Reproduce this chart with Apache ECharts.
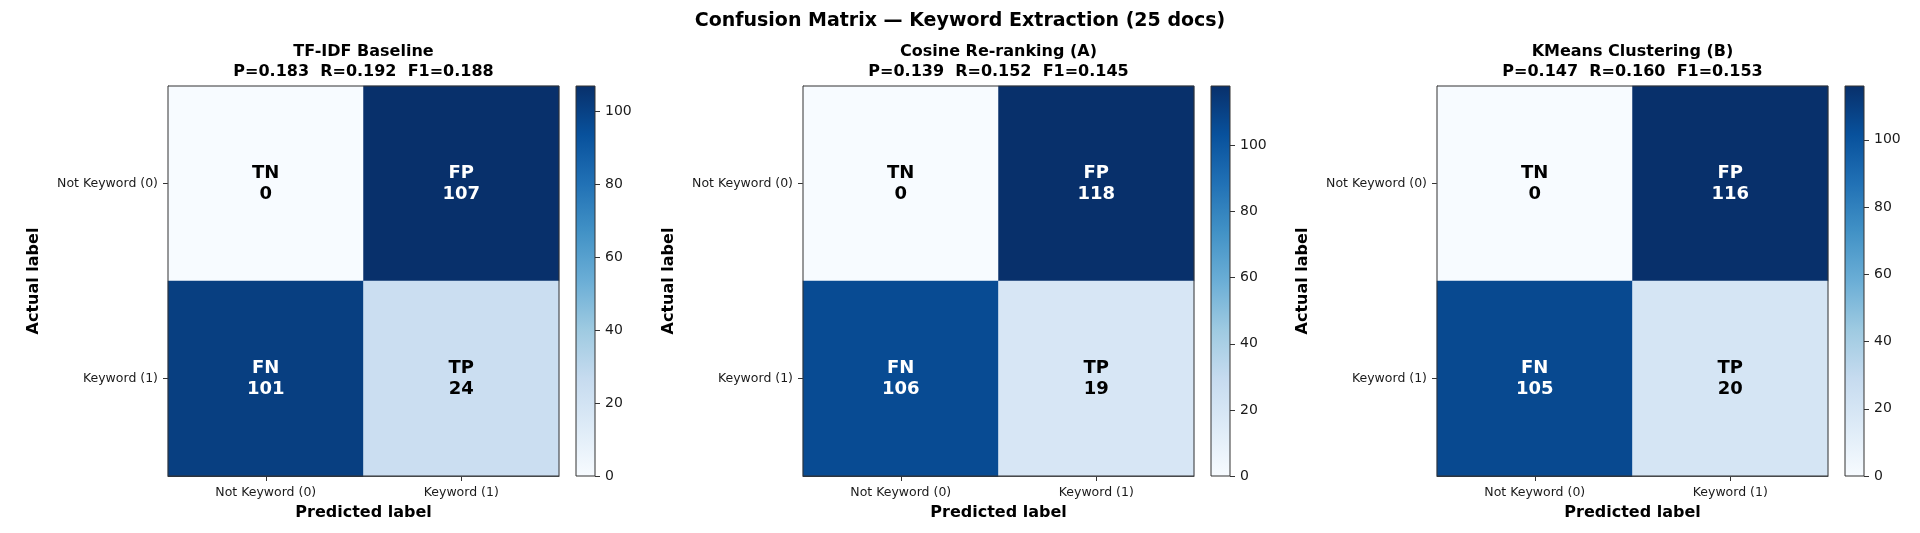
<!DOCTYPE html>
<html>
<head>
<meta charset="utf-8">
<script src="https://cdn.jsdelivr.net/npm/echarts@6/dist/echarts.min.js"></script>
<style>html,body{margin:0;padding:0;background:#fff}#main{width:1920px;height:533px}</style>
</head>
<body>
<div id="main"></div>
<script>
/*数据*/
var mainTitle='Confusion Matrix — Keyword Extraction (25 docs)';
var methods=['TF-IDF Baseline','Cosine Re-ranking (A)','KMeans Clustering (B)'];
var precision=[0.183,0.139,0.147];
var recall=[0.192,0.152,0.160];
var f1=[0.188,0.145,0.153];
var predLabels=['Not Keyword (0)','Keyword (1)'];
var actualLabels=['Not Keyword (0)','Keyword (1)'];
var cellNames=['TN','FP','FN','TP'];
var tn=[0,0,0];
var fp=[107,118,116];
var fn=[101,106,105];
var tp=[24,19,20];
var cbTicks=[0,20,40,60,80,100];
var blues=['#f7fbff','#deebf7','#c6dbef','#9ecae1','#6baed6','#4292c6','#2171b5','#08519c','#08306b'];

/*布局*/
var font='DejaVu Sans';
var lefts=[168,803,1437],topY=86,size=391,cbGap=408,cbW=19;

var myChart=echarts.init(document.getElementById('main'),null,{renderer:'canvas'});
var option={
	backgroundColor:'#fff',
	animation:false,
	textStyle:{fontFamily:font},
	title:[{
		text:mainTitle,left:960,top:10,textAlign:'center',padding:0,
		textStyle:{fontFamily:font,fontSize:19,fontWeight:'bold',color:'#000',lineHeight:22}
	}],
	grid:[],xAxis:[],yAxis:[],visualMap:[],series:[]
};

var stops=[];
for(var s=0;s<blues.length;s++){
	stops.push({offset:s/(blues.length-1),color:blues[s]});
}

for(var i=0;i<methods.length;i++){
	var L=lefts[i];
	var mat=[[tn[i],fp[i]],[fn[i],tp[i]]];
	var vmax=Math.max(tn[i],fp[i],fn[i],tp[i]);
	var data=[];
	for(var r=0;r<2;r++){
		for(var c=0;c<2;c++){
			var v=mat[r][c];
			data.push({name:cellNames[r*2+c],value:[c,r,v],label:{color:v>vmax/2?'#fff':'#000'}});
		}
	}
	// 子图标题
	option.title.push({
		text:methods[i]+'\nP='+precision[i].toFixed(3)+'  R='+recall[i].toFixed(3)+'  F1='+f1[i].toFixed(3),
		left:L+size/2,top:42,textAlign:'center',padding:0,
		textStyle:{fontFamily:font,fontSize:16,fontWeight:'bold',color:'#000',lineHeight:20}
	});
	// 热力图
	option.grid.push({left:L,top:topY,width:size,height:size-1,show:true,z:10,backgroundColor:'transparent',borderColor:'#333',borderWidth:1});
	option.xAxis.push({
		type:'category',gridIndex:2*i,data:predLabels,position:'bottom',
		axisLine:{show:true,lineStyle:{color:'#333'}},
		axisTick:{show:true,alignWithLabel:true,length:5,lineStyle:{color:'#333'}},
		axisLabel:{fontFamily:font,fontSize:12.5,color:'#1a1a1a',margin:10},
		splitLine:{show:false},splitArea:{show:false},
		name:'Predicted label',nameLocation:'middle',nameGap:29,
		nameTextStyle:{fontFamily:font,fontSize:16,fontWeight:'bold',color:'#000'}
	});
	option.yAxis.push({
		type:'category',gridIndex:2*i,data:actualLabels,inverse:true,
		axisLine:{show:true,lineStyle:{color:'#333'}},
		axisTick:{show:true,alignWithLabel:true,length:5,lineStyle:{color:'#333'}},
		axisLabel:{fontFamily:font,fontSize:12.5,color:'#1a1a1a',margin:10},
		splitLine:{show:false},splitArea:{show:false},
		name:'Actual label',nameLocation:'middle',nameGap:126,
		nameTextStyle:{fontFamily:font,fontSize:16,fontWeight:'bold',color:'#000'}
	});
	option.visualMap.push({type:'continuous',show:false,seriesIndex:2*i,min:0,max:vmax,inRange:{color:blues}});
	option.series.push({
		type:'heatmap',xAxisIndex:2*i,yAxisIndex:2*i,data:data,silent:true,
		itemStyle:{borderWidth:0},
		label:{show:true,fontFamily:font,fontSize:18,fontWeight:'bold',lineHeight:21,
			formatter:function(p){return p.name+'\n'+p.value[2];}}
	});
	// 颜色条
	option.grid.push({left:L+cbGap,top:topY,width:cbW,height:size-1,show:true,z:10,backgroundColor:'transparent',borderColor:'#333',borderWidth:1});
	option.xAxis.push({type:'category',gridIndex:2*i+1,data:[''],show:false});
	option.yAxis.push({
		type:'value',gridIndex:2*i+1,position:'right',min:0,max:vmax,interval:20,
		axisLine:{show:false},
		axisTick:{show:true,length:5,customValues:cbTicks,lineStyle:{color:'#333'}},
		axisLabel:{fontFamily:font,fontSize:14,color:'#1a1a1a',margin:10,customValues:cbTicks},
		splitLine:{show:false}
	});
	option.series.push({
		type:'bar',xAxisIndex:2*i+1,yAxisIndex:2*i+1,data:[vmax],barWidth:'100%',silent:true,
		itemStyle:{color:{type:'linear',x:0,y:1,x2:0,y2:0,colorStops:stops}}
	});
}
myChart.setOption(option);
</script>
</body>
</html>
